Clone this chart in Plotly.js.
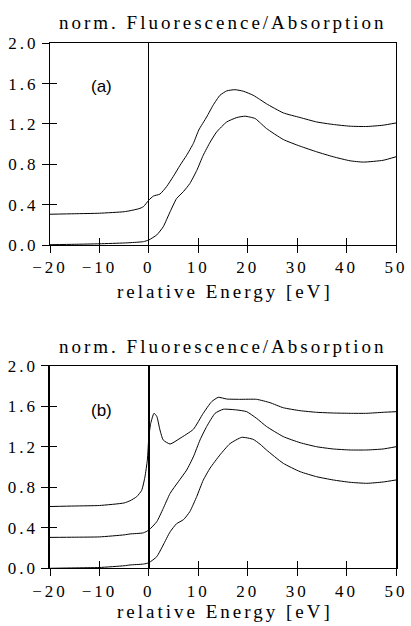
<!DOCTYPE html>
<html>
<head>
<meta charset="utf-8">
<script src="https://cdn.plot.ly/plotly-3.0.1.min.js"></script>
<style>
  html, body { margin: 0; padding: 0; background: #fff; }
  #chart { width: 411px; height: 626px; }
  text[style*="Serif"] { letter-spacing: 3px; }
</style>
</head>
<body>
<div id="chart"></div>
<script>
// ---- Data ----
// Panel (a): upper curve (offset ~0.3)
const aUpperE = [-20, -15, -10, -5, -3.8, -2, -1.1, 0, 0.9, 2.25, 3.6, 4.95, 6.3, 7.65, 9.0, 10.1, 11.7, 13.0, 14.4, 15.75, 17.4, 19.1, 21.1, 22.4, 23.8, 27.2, 30.6, 33.95, 37.3, 40.7, 44.1, 47.4, 50];
const aUpperV = [0.305, 0.31, 0.315, 0.33, 0.34, 0.36, 0.38, 0.445, 0.485, 0.505, 0.58, 0.68, 0.79, 0.89, 1.007, 1.14, 1.27, 1.386, 1.485, 1.528, 1.54, 1.525, 1.485, 1.445, 1.40, 1.31, 1.264, 1.22, 1.195, 1.178, 1.175, 1.188, 1.21];
// Panel (a): lower curve
const aLowerE = [-20, -15, -10, -5, -3.8, -1.1, 0, 1.6, 2.9, 4.3, 5.6, 7.0, 8.3, 9.7, 11.0, 12.4, 13.7, 15.75, 17.8, 19.45, 21.5, 22.6, 23.8, 27.2, 30.6, 33.95, 37.3, 40.7, 43.4, 47.4, 50];
const aLowerV = [0.003, 0.007, 0.012, 0.02, 0.023, 0.033, 0.05, 0.10, 0.18, 0.33, 0.46, 0.53, 0.61, 0.74, 0.89, 1.02, 1.12, 1.22, 1.264, 1.277, 1.254, 1.208, 1.155, 1.046, 0.98, 0.924, 0.875, 0.835, 0.822, 0.84, 0.875];

// Panel (b): top curve (offset ~0.6)
const bTopE = [-20, -15, -10, -5, -3.8, -2.46, -1.45, -0.8, -0.3, 0, 0.37, 1.04, 1.6, 2.25, 2.9, 4.3, 6.3, 9.0, 11.0, 12.7, 14.05, 15.75, 18.4, 21.8, 24.5, 27.2, 30.6, 33.95, 37.3, 40.7, 44.1, 47.4, 50];
const bTopV = [0.61, 0.615, 0.62, 0.645, 0.667, 0.707, 0.77, 0.90, 1.07, 1.30, 1.43, 1.53, 1.50, 1.365, 1.267, 1.227, 1.283, 1.372, 1.53, 1.645, 1.688, 1.671, 1.668, 1.668, 1.635, 1.585, 1.556, 1.54, 1.533, 1.53, 1.53, 1.54, 1.546];
// Panel (b): middle curve (offset ~0.3)
const bMidE = [-20, -15, -10, -5, -3.8, -1.1, 0, 1.6, 2.9, 4.3, 5.96, 7.65, 9.0, 10.35, 11.7, 13.4, 15.06, 17.8, 19.8, 21.8, 23.8, 27.2, 30.6, 33.95, 37.3, 40.7, 44.1, 47.4, 50];
const bMidV = [0.305, 0.307, 0.31, 0.33, 0.339, 0.35, 0.378, 0.46, 0.59, 0.74, 0.855, 0.97, 1.10, 1.267, 1.40, 1.53, 1.57, 1.563, 1.546, 1.48, 1.40, 1.30, 1.24, 1.20, 1.178, 1.168, 1.168, 1.178, 1.20];
// Panel (b): bottom curve
const bLowE = [-20, -15, -10, -5, -3.8, -1.1, 0, 1.6, 2.9, 4.3, 5.6, 7.0, 8.3, 9.7, 11.0, 12.4, 14.4, 16.4, 18.8, 21.1, 22.5, 23.8, 27.2, 30.6, 33.95, 37.3, 40.7, 44.1, 47.4, 50];
const bLowV = [0.0, 0.004, 0.008, 0.025, 0.033, 0.042, 0.055, 0.115, 0.23, 0.36, 0.44, 0.48, 0.56, 0.71, 0.87, 0.99, 1.12, 1.23, 1.293, 1.273, 1.225, 1.168, 1.036, 0.954, 0.904, 0.872, 0.849, 0.839, 0.852, 0.872];

// Axis ticks / labels
const xTicks = [-20, -10, 0, 10, 20, 30, 40, 50];
const yTicks = [0.0, 0.4, 0.8, 1.2, 1.6, 2.0];
const yTickText = ['0.0', '0.4', '0.8', '1.2', '1.6', '2.0'];
const panelTitle = 'norm. Fluorescence/Absorption';
const xTitle = 'relative Energy [eV]';
const panelLabels = ['(a)', '(b)'];

// ---- Build plot ----
const serif = 'Liberation Serif, DejaVu Serif, serif';
const lineStyle = (w) => ({ color: '#000', width: w, shape: 'spline', smoothing: 0.5 });

const traces = [
  { x: aUpperE, y: aUpperV, xaxis: 'x3', yaxis: 'y3', mode: 'lines', line: lineStyle(1), hoverinfo: 'skip' },
  { x: aLowerE, y: aLowerV, xaxis: 'x', yaxis: 'y', mode: 'lines', line: lineStyle(1), hoverinfo: 'skip' },
  { x: bTopE, y: bTopV, xaxis: 'x4', yaxis: 'y4', mode: 'lines', line: lineStyle(1), hoverinfo: 'skip' },
  { x: bMidE, y: bMidV, xaxis: 'x2', yaxis: 'y2', mode: 'lines', line: lineStyle(1), hoverinfo: 'skip' },
  { x: bLowE, y: bLowV, xaxis: 'x2', yaxis: 'y2', mode: 'lines', line: lineStyle(1), hoverinfo: 'skip' }
];

const H = 626;
const py = (p) => 1 - p / H;
const tickFont = { family: serif, size: 17, color: '#000' };

function mainX(anchor, lw) {
  return {
    anchor: anchor, domain: [0, 1], range: [-20, 50], tickmode: 'array', tickvals: xTicks,
    ticks: 'outside', ticklen: 7, tickwidth: 1, tickcolor: '#000',
    showline: true, linecolor: '#000', linewidth: 1, mirror: true,
    zeroline: true, zerolinecolor: '#000', zerolinewidth: lw,
    showgrid: false, tickfont: tickFont, fixedrange: true
  };
}
function mainY(anchor, dom, lw) {
  return {
    anchor: anchor, domain: dom, range: [0, 2], tickmode: 'array', tickvals: yTicks, ticktext: yTickText,
    ticks: 'outside', ticklen: 7, tickwidth: 1, tickcolor: '#000',
    showline: true, linecolor: '#000', linewidth: lw, mirror: true,
    zeroline: false, showgrid: false, tickfont: tickFont, fixedrange: true
  };
}
function overX(over, anchor) {
  return {
    overlaying: over, anchor: anchor, side: 'bottom', range: [-20, 50], tickmode: 'array', tickvals: xTicks,
    ticks: 'inside', ticklen: 7, tickwidth: 1, tickcolor: '#000',
    showticklabels: false, showline: false, zeroline: false, showgrid: false, fixedrange: true
  };
}
function overY(over, anchor) {
  return {
    overlaying: over, anchor: anchor, side: 'left', range: [0, 2], tickmode: 'array', tickvals: yTicks,
    ticks: 'inside', ticklen: 7, tickwidth: 1, tickcolor: '#000',
    showticklabels: false, showline: false, zeroline: false, showgrid: false, fixedrange: true
  };
}

const domA = [py(245), py(43.3)];
const domB = [py(568.3), py(365.7)];

const titleFont = { family: serif, size: 19, color: '#000' };
const labelFont = { family: 'Liberation Sans', size: 17, color: '#000' };

const layout = {
  width: 411, height: 626,
  margin: { l: 50, r: 15, t: 0, b: 0, pad: 0 },
  paper_bgcolor: '#fff', plot_bgcolor: '#fff',
  showlegend: false,
  xaxis: mainX('y', 1),
  yaxis: mainY('x', domA, 1),
  xaxis2: mainX('y2', 1.6),
  yaxis2: mainY('x2', domB, 1.6),
  xaxis3: overX('x', 'y'),
  yaxis3: overY('y', 'x'),
  xaxis4: overX('x2', 'y2'),
  yaxis4: overY('y2', 'x2'),
  annotations: [
    { text: panelTitle, xref: 'paper', yref: 'paper', x: 0.5, y: py(22), xanchor: 'center', yanchor: 'middle', showarrow: false, font: titleFont },
    { text: panelTitle, xref: 'paper', yref: 'paper', x: 0.5, y: py(346), xanchor: 'center', yanchor: 'middle', showarrow: false, font: titleFont },
    { text: xTitle, xref: 'paper', yref: 'paper', x: 0.505, y: py(291), xanchor: 'center', yanchor: 'middle', showarrow: false, font: titleFont },
    { text: xTitle, xref: 'paper', yref: 'paper', x: 0.505, y: py(611), xanchor: 'center', yanchor: 'middle', showarrow: false, font: titleFont },
    { text: panelLabels[0], xref: 'paper', yref: 'paper', x: 0.15, y: py(87), xanchor: 'center', yanchor: 'middle', showarrow: false, font: labelFont },
    { text: panelLabels[1], xref: 'paper', yref: 'paper', x: 0.15, y: py(410), xanchor: 'center', yanchor: 'middle', showarrow: false, font: labelFont }
  ]
};

Plotly.newPlot('chart', traces, layout, { displayModeBar: false, staticPlot: true });
</script>
</body>
</html>
